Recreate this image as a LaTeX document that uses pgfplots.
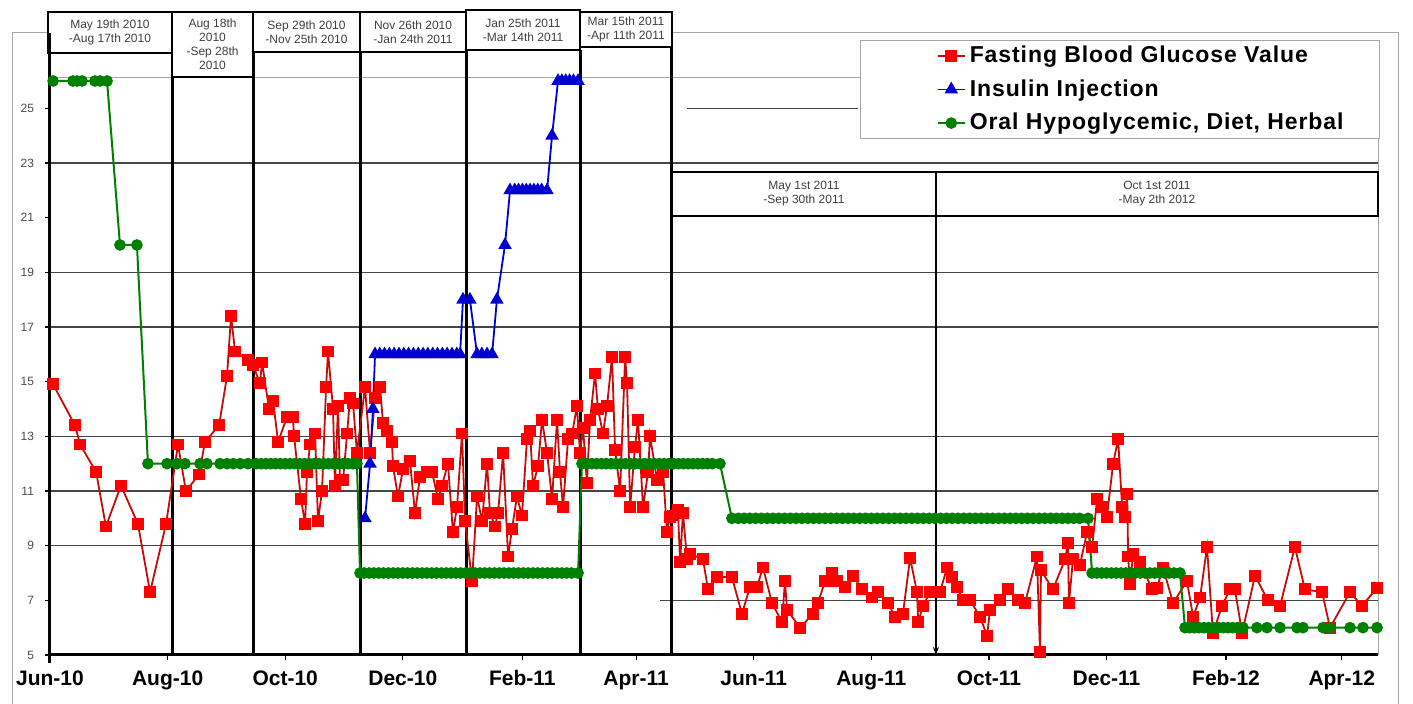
\documentclass[border=0pt]{standalone}
\usepackage{fontspec}
\setmainfont{Liberation Sans}
\usepackage{pgfplots}
\pgfplotsset{compat=1.18}
\usetikzlibrary{arrows.meta}
\definecolor{gred}{RGB}{255,0,0}
\definecolor{glin}{RGB}{200,10,10}
\definecolor{iblue}{RGB}{0,0,210}
\definecolor{ogreen}{RGB}{0,128,0}
\definecolor{gridc}{RGB}{70,70,70}
\begin{document}
\begin{tikzpicture}
\useasboundingbox (-25pt,-24.5pt) rectangle (681.5pt,327.5pt);
\begin{axis}[
  at={(0pt,0pt)}, anchor=south west,
  width=664pt, height=288.5pt, scale only axis,
  xmin=0, xmax=688.8, ymin=5, ymax=26.11,
  clip=false,
  axis line style={draw=gray!70, line width=0.5pt},
  xtick={0,61,122,183,245,304,365,426,487,548,610,670},
  xticklabels={Jun-10,Aug-10,Oct-10,Dec-10,Feb-11,Apr-11,Jun-11,Aug-11,Oct-11,Dec-11,Feb-12,Apr-12},
  xticklabel style={font=\bfseries\fontsize{10.5}{12}\selectfont, text height=8pt, text depth=2pt, yshift=-1pt},
  ytick={5,7,...,25},
  yticklabel style={font=\fontsize{6}{7}\selectfont, text=black!70, xshift=-2pt},
  /pgf/number format/assume math mode=true,
  xtick pos=bottom, ytick pos=left, tick align=outside,
  major tick length=2.5pt,
  tick style={black, line width=0.6pt},
  legend style={at={(rel axis cs:1.0015,1.066)}, anchor=north east,
    draw=gray!70, fill=white, inner xsep=16pt, inner ysep=0.8pt, row sep=3pt,
    font=\bfseries\fontsize{11.5}{13}\selectfont\addfontfeature{LetterSpace=4}, cells={anchor=west}},
  legend image code/.code={
    \path[draw=none,fill=none] (-22.5pt,0pt) -- (13.5pt,0pt);
    \draw[mark repeat=2,mark phase=2,#1] plot coordinates {(0pt,0pt) (6.75pt,0pt) (13.5pt,0pt)};
  },
]
% frame
\draw[gray!70, line width=0.5pt] (axis cs:-19.7,3.0) -- (axis cs:-19.7,27.76) -- (axis cs:699.2,27.76) -- (axis cs:699.2,3.0);
% grid lines
\draw[gridc, line width=0.6pt] (axis cs:0,9) -- (axis cs:688.8,9);
\draw[gridc, line width=0.6pt] (axis cs:0,11) -- (axis cs:688.8,11);
\draw[gridc, line width=0.6pt] (axis cs:0,13) -- (axis cs:688.8,13);
\draw[gridc, line width=0.6pt] (axis cs:0,17) -- (axis cs:688.8,17);
\draw[gridc, line width=0.6pt] (axis cs:0,19) -- (axis cs:688.8,19);
\draw[gridc, line width=0.6pt] (axis cs:0,23) -- (axis cs:688.8,23);
\draw[gridc, line width=0.6pt] (axis cs:316.4,7) -- (axis cs:688.8,7);
\draw[gridc, line width=0.6pt] (axis cs:330.4,25) -- (axis cs:419.1,25);
% period lines
\draw[black, line width=1.5pt] (axis cs:63.3,27.03) -- (axis cs:63.3,5);
\draw[black, line width=1.5pt] (axis cs:105.3,27.06) -- (axis cs:105.3,5);
\draw[black, line width=1.5pt] (axis cs:160.8,27.06) -- (axis cs:160.8,5);
\draw[black, line width=1.5pt] (axis cs:215.8,27.14) -- (axis cs:215.8,5);
\draw[black, line width=1.5pt] (axis cs:274.9,27.14) -- (axis cs:274.9,5);
\draw[black, line width=1.5pt] (axis cs:322.6,27.25) -- (axis cs:322.6,5);
\draw[black, line width=0.9pt, -{Stealth[length=4pt,width=3pt]}] (axis cs:459.5,21.06) -- (axis cs:459.5,5);
% boxes
\draw[black, line width=0.7pt, fill=white] (axis cs:-1,27.03) rectangle (axis cs:63.3,28.53);
\draw[black, line width=0.7pt, fill=white] (axis cs:63.3,26.15) rectangle (axis cs:105.3,28.53);
\draw[black, line width=0.7pt, fill=white] (axis cs:105.3,27.06) rectangle (axis cs:160.8,28.53);
\draw[black, line width=0.7pt, fill=white] (axis cs:160.8,27.06) rectangle (axis cs:215.8,28.53);
\draw[black, line width=0.7pt, fill=white] (axis cs:215.8,27.14) rectangle (axis cs:274.9,28.6);
\draw[black, line width=0.7pt, fill=white] (axis cs:274.9,27.25) rectangle (axis cs:322.6,28.53);
\draw[black, line width=1.3pt, fill=white] (axis cs:322.6,21.06) rectangle (axis cs:459.5,22.67);
\draw[black, line width=1.3pt, fill=white] (axis cs:459.5,21.06) rectangle (axis cs:688.8,22.67);
\node[font=\fontsize{6}{7}\selectfont, text=black!75, align=center] at (axis cs:31.1,27.78) {May 19th 2010\\-Aug 17th 2010};
\node[font=\fontsize{6}{7}\selectfont, text=black!75, align=center] at (axis cs:84.3,27.34) {Aug 18th\\2010\\-Sep 28th\\2010};
\node[font=\fontsize{6}{7}\selectfont, text=black!75, align=center] at (axis cs:133.05,27.8) {Sep 29th 2010\\-Nov 25th 2010};
\node[font=\fontsize{6}{7}\selectfont, text=black!75, align=center] at (axis cs:188.3,27.8) {Nov 26th 2010\\-Jan 24th 2011};
\node[font=\fontsize{6}{7}\selectfont, text=black!75, align=center] at (axis cs:245.35,27.87) {Jan 25th 2011\\-Mar 14th 2011};
\node[font=\fontsize{6}{7}\selectfont, text=black!75, align=center] at (axis cs:298.75,27.89) {Mar 15th 2011\\-Apr 11th 2011};
\node[font=\fontsize{6}{7}\selectfont, text=black!75, align=center] at (axis cs:391.05,21.87) {May 1st 2011\\-Sep 30th 2011};
\node[font=\fontsize{6}{7}\selectfont, text=black!75, align=center] at (axis cs:574.15,21.87) {Oct 1st 2011\\-May 2th 2012};
% data
\addplot[color=glin, line width=0.9pt, mark=square*, mark size=2.5pt, mark options={fill=gred, draw=gred}] coordinates {
(1.6,14.9)(13.0,13.4)(15.6,12.7)(23.9,11.7)(29.0,9.7)(36.8,11.2)(45.6,9.8)(51.9,7.3)(60.2,9.8)(66.4,12.7)(70.5,11.0)(77.3,11.6)(80.4,12.8)(87.7,13.4)(91.8,15.2)(93.9,17.4)(96.0,16.1)(102.7,15.8)(105.3,15.6)(108.9,14.95)(110.0,15.7)(113.6,14.0)(115.7,14.3)(118.3,12.8)(122.9,13.7)(126.0,13.7)(126.6,13.0)(130.2,10.7)(132.3,9.8)(133.3,11.7)(134.9,12.7)(137.5,13.1)(139.0,9.9)(141.1,11.0)(143.2,14.8)(144.2,16.1)(146.8,14.0)(147.8,11.2)(149.4,14.1)(150.4,11.4)(152.0,11.4)(154.1,13.1)(155.6,14.4)(157.2,14.2)(159.2,12.4)(163.4,14.8)(166.0,12.4)(168.6,14.4)(171.2,14.8)(172.7,13.5)(174.8,13.2)(177.4,12.8)(177.9,11.9)(180.5,10.8)(183.1,11.8)(186.7,12.1)(189.3,10.2)(191.9,11.5)(195.6,11.7)(198.1,11.7)(201.3,10.7)(203.3,11.2)(206.4,12.0)(209.0,9.5)(211.1,10.4)(213.7,13.1)(215.3,9.9)(218.9,7.7)(221.5,10.8)(224.1,9.9)(226.7,12.0)(228.2,10.2)(230.8,9.7)(232.4,10.2)(235.0,12.4)(237.6,8.6)(239.6,9.6)(242.2,10.8)(244.8,10.1)(247.4,12.9)(249.0,13.2)(250.5,11.2)(253.1,11.9)(255.2,13.6)(257.8,12.4)(260.4,10.7)(263.0,13.6)(264.5,11.7)(266.1,10.4)(268.7,12.9)(270.8,13.1)(273.3,14.1)(274.9,12.4)(276.5,13.3)(278.5,11.3)(280.1,13.6)(282.7,15.3)(284.2,14.0)(286.8,13.1)(288.9,14.1)(291.5,15.9)(293.1,12.5)(295.7,11.0)(298.3,15.9)(299.3,14.95)(300.9,10.4)(303.4,12.6)(305.0,13.6)(307.6,10.4)(310.2,11.7)(311.2,13.0)(314.9,11.4)(318.0,11.7)(320.0,9.5)(321.6,10.05)(323.2,10.1)(325.7,10.3)(326.8,8.4)(328.3,10.2)(330.4,8.5)(332.0,8.7)(338.7,8.5)(341.3,7.4)(346.0,7.85)(353.7,7.85)(358.9,6.5)(363.1,7.5)(366.7,7.5)(369.8,8.2)(374.5,6.9)(379.7,6.2)(381.2,7.7)(382.3,6.65)(389.0,6.0)(395.7,6.5)(398.3,6.9)(402.0,7.7)(405.6,8.0)(408.2,7.7)(412.3,7.5)(416.5,7.9)(421.2,7.4)(426.3,7.1)(429.5,7.3)(434.6,6.9)(438.3,6.4)(442.4,6.5)(446.1,8.55)(449.7,7.3)(450.3,6.2)(452.8,6.8)(456.4,7.3)(461.6,7.3)(465.3,8.2)(467.8,7.85)(470.4,7.5)(473.6,7.0)(477.2,7.0)(482.4,6.4)(486.0,5.7)(487.6,6.65)(492.7,7.0)(496.9,7.4)(502.1,7.0)(505.7,6.9)(511.9,8.6)(513.5,5.1)(514.0,8.1)(520.2,7.4)(526.5,8.5)(528.0,9.1)(528.5,6.9)(530.6,8.5)(534.2,8.3)(537.9,9.5)(540.5,8.95)(543.1,10.7)(545.6,10.4)(548.2,10.05)(551.4,12.0)(554.0,12.9)(556.1,10.4)(557.6,10.05)(558.7,10.9)(559.2,8.6)(560.2,7.6)(561.8,8.7)(565.4,8.4)(571.6,7.4)(574.2,7.45)(577.3,8.2)(582.5,6.9)(589.7,7.7)(592.9,6.4)(596.5,7.1)(600.1,8.95)(603.2,5.8)(607.9,6.8)(612.0,7.4)(614.6,7.4)(618.3,5.8)(625.0,7.9)(631.7,7.0)(638.0,6.8)(645.7,8.95)(650.9,7.4)(659.8,7.3)(663.9,6.0)(674.3,7.3)(680.5,6.8)(688.3,7.45)
};
\addlegendentry{Fasting Blood Glucose Value}
\addplot[color=iblue, line width=0.9pt, mark=triangle*, mark size=3pt, mark options={fill=iblue}] coordinates {
(163.4,10)(166.0,12)(167.5,14)(168.6,16)(171,16)(173.5,16)(176,16)(178.5,16)(181,16)(183.5,16)(186,16)(188.5,16)(191,16)(193.5,16)(196,16)(198.5,16)(201,16)(203.5,16)(206,16)(208.5,16)(211,16)(212.7,16)(214.2,18)(217.8,18)(221.5,16)(224.0,16)(226.7,16)(229.3,16)(231.8,18)(236.0,20)(238.6,22)(241,22)(243,22)(245,22)(247,22)(249,22)(251,22)(253,22)(255,22)(257.8,22)(260.4,24)(263.5,26)(265.5,26)(267.5,26)(269.5,26)(271.5,26)(273.9,26)
};
\addlegendentry{Insulin Injection}
\addplot[color=ogreen, line width=1pt, mark=*, mark size=2.4pt, mark options={fill=ogreen}] coordinates {
(1.6,26)(11.9,26)(14.0,26)(16.6,26)(23.3,26)(25.9,26)(29.6,26)(36.3,20)(45.1,20)
(50.8,12)(60.7,12)(65.8,12)(70.0,12)(77.8,12)(81.4,12)(88.2,12)(91.8,12)(95.0,12)(98.6,12)(102.7,12)(107.0,12)(109.5,12)(112,12)(114.5,12)(117,12)(119.5,12)(122,12)(124.5,12)(127,12)(129.5,12)(132,12)(134.5,12)(137,12)(139.5,12)(142,12)(144.5,12)(147,12)(149.5,12)(152,12)(154.5,12)(157,12)(159.2,12)
(160.8,8)(163,8)(165.5,8)(168,8)(170.5,8)(173,8)(175.5,8)(178,8)(180.5,8)(183,8)(185.5,8)(188,8)(190.5,8)(193,8)(195.5,8)(198,8)(200.5,8)(203,8)(205.5,8)(208,8)(210.5,8)(213,8)(215.5,8)(218,8)(220.5,8)(223,8)(225.5,8)(228,8)(230.5,8)(233,8)(235.5,8)(238,8)(240.5,8)(243,8)(245.5,8)(248,8)(250.5,8)(253,8)(255.5,8)(258,8)(260.5,8)(263,8)(265.5,8)(268,8)(270.5,8)(273.9,8)
(275.9,12)(278.5,12)(281,12)(283.5,12)(286,12)(288.5,12)(291,12)(293.5,12)(296,12)(298.5,12)(301,12)(303.5,12)(306,12)(308.5,12)(311,12)(313.5,12)(316,12)(318.5,12)(321,12)(323.5,12)(326,12)(328.5,12)(331,12)(333.5,12)(336,12)(338.5,12)(341,12)(343.5,12)(347.5,12)
(353.7,10)(357,10)(360,10)(363,10)(366,10)(369,10)(372,10)(375,10)(378,10)(381,10)(384,10)(387,10)(390,10)(393,10)(396,10)(399,10)(402,10)(405,10)(408,10)(411,10)(414,10)(417,10)(420,10)(423,10)(426,10)(429,10)(432,10)(435,10)(438,10)(441,10)(444,10)(447,10)(450,10)(453,10)(456,10)(459,10)(462,10)(465,10)(468,10)(471,10)(474,10)(477,10)(480,10)(483,10)(486,10)(489,10)(492,10)(495,10)(498,10)(501,10)(504,10)(507,10)(510,10)(513,10)(516,10)(519,10)(522,10)(525,10)(528,10)(531,10)(534,10)(538.4,10)
(540.5,8)(543,8)(545.5,8)(548,8)(550.5,8)(553,8)(555.5,8)(558,8)(560.5,8)(563,8)(565.5,8)(568,8)(570.5,8)(573,8)(575.5,8)(578,8)(580.5,8)(583,8)(586.1,8)
(588.7,6)(591,6)(593.5,6)(596,6)(598.5,6)(601,6)(603.5,6)(606,6)(608.5,6)(611,6)(613.5,6)(616,6)(618.8,6)(626,6)(631.2,6)(638,6)(646.8,6)(649.9,6)(660.3,6)(663.9,6)(674.3,6)(681,6)(688.3,6)
};
\addlegendentry{Oral Hypoglycemic, Diet, Herbal}
% axis lines
\draw[black, line width=1.5pt] (axis cs:0,4.7) -- (axis cs:0,27.76);
\draw[black, line width=1.5pt] (axis cs:0,5) -- (axis cs:688.8,5);
\end{axis}
\end{tikzpicture}
\end{document}
